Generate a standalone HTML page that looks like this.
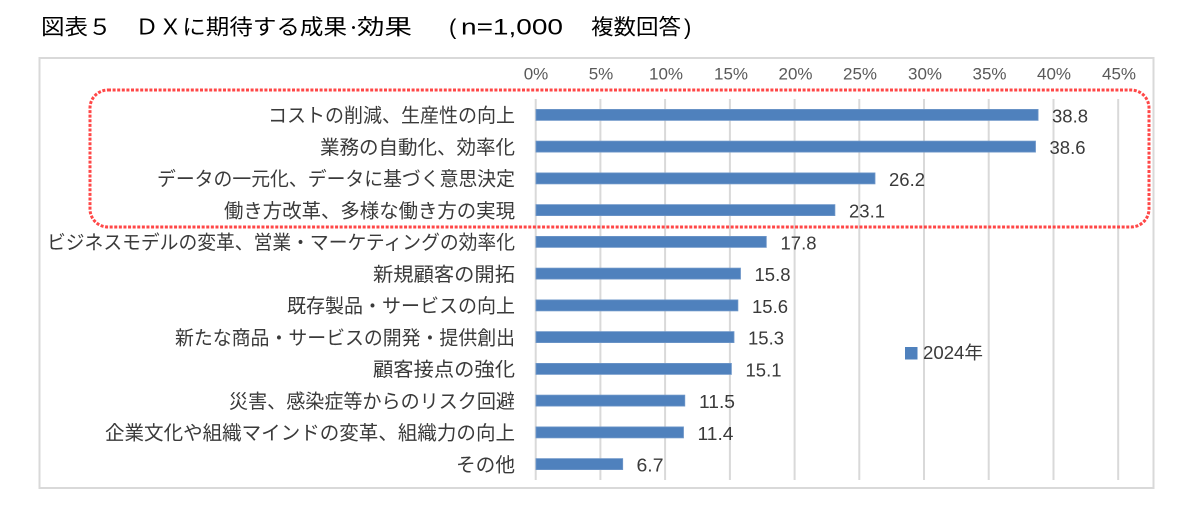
<!DOCTYPE html>
<html><head><meta charset="utf-8">
<style>
html,body{margin:0;padding:0;background:#fff;}
svg{display:block;}
</style></head>
<body>
<svg width="1198" height="507" viewBox="0 0 1198 507" xmlns="http://www.w3.org/2000/svg">
<rect x="0" y="0" width="1198" height="507" fill="#fff"/>
<!-- title -->
<g font-family="'Noto Sans CJK JP', sans-serif" font-size="21.5" fill="#000">
<text x="41" y="34.5" textLength="306" lengthAdjust="spacingAndGlyphs">図表５　ＤＸに期待する成果</text>
<text x="349" y="34.5" font-size="18">･</text>
<text x="357" y="34.5" textLength="55" lengthAdjust="spacingAndGlyphs">効果</text>
<text x="591" y="34.5" textLength="90" lengthAdjust="spacingAndGlyphs">複数回答</text>
</g>
<g font-family="'Liberation Sans', sans-serif" font-size="22" fill="#000">
<text x="449" y="34.5">(</text>
<text x="461" y="34.5" textLength="102" lengthAdjust="spacingAndGlyphs">n=1,000</text>
<text x="684" y="34.5">)</text>
</g>
<!-- chart border -->
<rect x="39.5" y="58" width="1114" height="430" fill="none" stroke="#d9d9d9" stroke-width="2"/>
<!-- gridlines -->
<g stroke="#d9d9d9" stroke-width="2">
<line x1="535.7" y1="99" x2="535.7" y2="480"/>
<line x1="600.4" y1="99" x2="600.4" y2="480"/>
<line x1="665.1" y1="99" x2="665.1" y2="480"/>
<line x1="729.9" y1="99" x2="729.9" y2="480"/>
<line x1="794.6" y1="99" x2="794.6" y2="480"/>
<line x1="859.3" y1="99" x2="859.3" y2="480"/>
<line x1="924.0" y1="99" x2="924.0" y2="480"/>
<line x1="988.7" y1="99" x2="988.7" y2="480"/>
<line x1="1053.5" y1="99" x2="1053.5" y2="480"/>
<line x1="1118.2" y1="99" x2="1118.2" y2="480"/>
</g>
<!-- tick labels -->
<g font-family="'Liberation Sans', sans-serif" font-size="17" fill="#595959" text-anchor="middle">
<text x="536" y="79.5">0%</text>
<text x="601" y="79.5">5%</text>
<text x="666" y="79.5">10%</text>
<text x="731" y="79.5">15%</text>
<text x="795.5" y="79.5">20%</text>
<text x="860" y="79.5">25%</text>
<text x="925" y="79.5">30%</text>
<text x="989.5" y="79.5">35%</text>
<text x="1054" y="79.5">40%</text>
<text x="1119" y="79.5">45%</text>
</g>
<!-- bars -->
<g fill="#4f81bd" stroke="#6f97c9" stroke-width="0.8">
<rect x="536" y="109.4" width="502.1" height="11"/>
<rect x="536" y="141.1" width="499.5" height="11"/>
<rect x="536" y="172.9" width="339.0" height="11"/>
<rect x="536" y="204.6" width="298.9" height="11"/>
<rect x="536" y="236.4" width="230.3" height="11"/>
<rect x="536" y="268.1" width="204.5" height="11"/>
<rect x="536" y="299.9" width="201.9" height="11"/>
<rect x="536" y="331.6" width="198.0" height="11"/>
<rect x="536" y="363.4" width="195.4" height="11"/>
<rect x="536" y="395.1" width="148.8" height="11"/>
<rect x="536" y="426.9" width="147.5" height="11"/>
<rect x="536" y="458.6" width="86.7" height="11"/>
</g>
<!-- value labels -->
<g font-family="'Liberation Sans', sans-serif" font-size="18" fill="#3a3a3a">
<text x="1052" y="122.4" textLength="36" lengthAdjust="spacingAndGlyphs">38.8</text>
<text x="1049.5" y="154.1" textLength="36" lengthAdjust="spacingAndGlyphs">38.6</text>
<text x="889" y="185.9" textLength="36" lengthAdjust="spacingAndGlyphs">26.2</text>
<text x="849" y="217.6" textLength="36" lengthAdjust="spacingAndGlyphs">23.1</text>
<text x="780.5" y="249.4" textLength="36" lengthAdjust="spacingAndGlyphs">17.8</text>
<text x="754.5" y="281.1" textLength="36" lengthAdjust="spacingAndGlyphs">15.8</text>
<text x="752" y="312.9" textLength="36" lengthAdjust="spacingAndGlyphs">15.6</text>
<text x="748" y="344.6" textLength="36" lengthAdjust="spacingAndGlyphs">15.3</text>
<text x="745.5" y="376.4" textLength="36" lengthAdjust="spacingAndGlyphs">15.1</text>
<text x="699" y="408.1" textLength="36" lengthAdjust="spacingAndGlyphs">11.5</text>
<text x="697.5" y="439.9" textLength="36" lengthAdjust="spacingAndGlyphs">11.4</text>
<text x="636.5" y="471.6" textLength="27" lengthAdjust="spacingAndGlyphs">6.7</text>
</g>
<!-- category labels -->
<g font-family="'Liberation Sans','Noto Sans CJK JP', sans-serif" font-size="19.5" fill="#3a3a3a">
<text x="268" y="122.2" textLength="247" lengthAdjust="spacingAndGlyphs">コストの削減、生産性の向上</text>
<text x="320" y="153.9" textLength="195" lengthAdjust="spacingAndGlyphs">業務の自動化、効率化</text>
<text x="157" y="185.7" textLength="358" lengthAdjust="spacingAndGlyphs">データの一元化、データに基づく意思決定</text>
<text x="224" y="217.4" textLength="291" lengthAdjust="spacingAndGlyphs">働き方改革、多様な働き方の実現</text>
<text x="47" y="249.2" textLength="468" lengthAdjust="spacingAndGlyphs">ビジネスモデルの変革、営業・マーケティングの効率化</text>
<text x="373" y="280.9" textLength="142" lengthAdjust="spacingAndGlyphs">新規顧客の開拓</text>
<text x="287" y="312.7" textLength="228" lengthAdjust="spacingAndGlyphs">既存製品・サービスの向上</text>
<text x="175" y="344.4" textLength="340" lengthAdjust="spacingAndGlyphs">新たな商品・サービスの開発・提供創出</text>
<text x="373" y="376.2" textLength="142" lengthAdjust="spacingAndGlyphs">顧客接点の強化</text>
<text x="229" y="407.9" textLength="286" lengthAdjust="spacingAndGlyphs">災害、感染症等からのリスク回避</text>
<text x="105" y="439.7" textLength="410" lengthAdjust="spacingAndGlyphs">企業文化や組織マインドの変革、組織力の向上</text>
<text x="456" y="471.4" textLength="59" lengthAdjust="spacingAndGlyphs">その他</text>
</g>
<!-- legend -->
<rect x="905" y="347" width="12.5" height="12.5" fill="#4f81bd"/>
<text x="923" y="359" font-family="'Liberation Sans','Noto Sans CJK JP', sans-serif" font-size="18" fill="#3a3a3a" textLength="60" lengthAdjust="spacingAndGlyphs">2024年</text>
<!-- red dotted highlight box -->
<rect x="90" y="90" width="1059" height="137" rx="18" ry="18" fill="none" stroke="#ff3333" stroke-width="3" stroke-dasharray="3 1.6" opacity="0.9"/>
</svg>
</body></html>
